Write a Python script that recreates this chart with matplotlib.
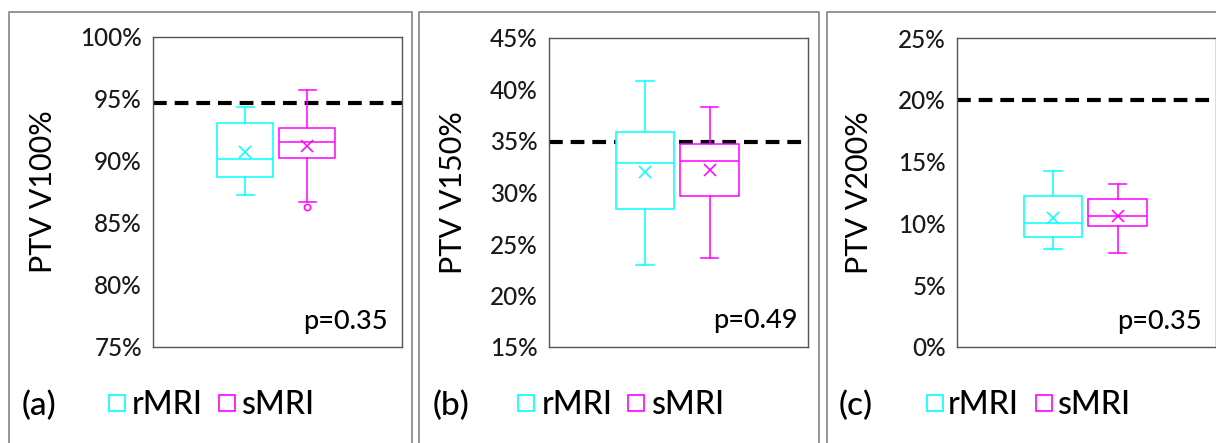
import matplotlib
matplotlib.use("Agg")
import matplotlib.pyplot as plt
import matplotlib.patches as patches
from matplotlib.lines import Line2D
from matplotlib.ticker import PercentFormatter

plt.rcParams['font.family'] = ['Lato', 'DejaVu Sans']
plt.rcParams['font.weight'] = 'medium'

W, H = 1216, 443

# --- data (percent) ---
series = ["rMRI", "sMRI"]
colors = ["#00FFFF", "#FF00FF"]
panel_tags = ["(a)", "(b)", "(c)"]
ylabels = ["PTV V100%", "PTV V150%", "PTV V200%"]
p_values = ["p=0.35", "p=0.49", "p=0.35"]
yranges = [(75, 100), (15, 45), (0, 25)]
thresholds = [94.7, 34.9, 20.0]

# [whislo, q1, med, q3, whishi, mean]
v100_r = [87.25, 88.7, 90.2, 93.1, 94.35, 90.75]
v100_s = [86.7, 90.25, 91.55, 92.7, 95.7, 91.25]
v100_fliers = [[], [86.3]]
v150_r = [22.95, 28.4, 32.9, 35.9, 40.8, 32.0]
v150_s = [23.6, 29.7, 33.1, 34.7, 38.3, 32.2]
v200_r = [7.9, 8.9, 10.0, 12.2, 14.2, 10.4]
v200_s = [7.6, 9.8, 10.6, 12.0, 13.2, 10.6]

panel_data = [(v100_r, v100_s), (v150_r, v150_s), (v200_r, v200_s)]
panel_fliers = [v100_fliers, [[], []], [[], []]]

# --- layout in pixels ---
axes_px = [(153, 37, 249, 310), (549, 38, 259, 309), (957, 38, 259, 309)]
frames_px = [(9, 403), (419, 400), (827, 420)]
ylabel_x = [-0.386, -0.317, -0.324]
p_pos = [(0.944, 0.081), (0.961, 0.087), (0.946, 0.081)]
tag_x = [22, 433, 839]
legend_x = [(109, 132, 219, 242), (518, 542, 628, 652), (927, 948, 1036, 1058)]
positions = [0.37, 0.62]


def fx(px):
    return px / W


def fy(py):
    return 1 - py / H


fig = plt.figure(figsize=(W / 100, H / 100), dpi=100)

for i in range(3):
    # panel frame
    fl, fw = frames_px[i]
    fig.add_artist(Line2D([fx(fl), fx(fl), fx(fl + fw), fx(fl + fw)],
                          [0, fy(12), fy(12), 0], color="#8c8c8c", lw=1.3))

    l, t, w, h = axes_px[i]
    ax = fig.add_axes([fx(l), fy(t + h), w / W, h / H])
    r, s = panel_data[i]
    stats = []
    for vals, fl_ in zip((r, s), panel_fliers[i]):
        stats.append(dict(whislo=vals[0], q1=vals[1], med=vals[2], q3=vals[3],
                          whishi=vals[4], mean=vals[5], fliers=fl_))

    ax.axhline(thresholds[i], color="black", lw=3, dashes=(3.3, 1.9), zorder=1)

    for k in range(2):
        c = colors[k]
        ax.bxp([stats[k]], positions=[positions[k]], widths=0.225, capwidths=0.068,
               showmeans=True, patch_artist=True,
               boxprops=dict(facecolor="white", edgecolor=c, lw=1.1),
               medianprops=dict(color=c, lw=1.1),
               whiskerprops=dict(color=c, lw=1.1),
               capprops=dict(color=c, lw=1.1),
               meanprops=dict(marker="x", markeredgecolor=c, markersize=9, markeredgewidth=1.1),
               flierprops=dict(marker="o", markerfacecolor="white", markeredgecolor=c,
                               markersize=4.5, markeredgewidth=1.1),
               zorder=3)

    ax.set_xlim(0, 1)
    lo, hi = yranges[i]
    ax.set_ylim(lo, hi)
    ax.set_yticks(range(lo, hi + 1, 5))
    ax.yaxis.set_major_formatter(PercentFormatter(decimals=0))
    ax.set_xticks([])
    ax.tick_params(axis="y", length=0, pad=8, labelsize=17.5, labelcolor="#1a1a1a")
    for sp in ax.spines.values():
        sp.set_color("#555555")
        sp.set_linewidth(1.0)
    ax.set_ylabel(ylabels[i], fontsize=22)
    ax.yaxis.set_label_coords(ylabel_x[i], 0.5)
    ax.text(p_pos[i][0], p_pos[i][1], p_values[i], transform=ax.transAxes,
            ha="right", va="center", fontsize=19.5)

    # panel tag and legend
    fig.text(fx(tag_x[i]), fy(406), panel_tags[i], ha="left", va="center", fontsize=24)
    sq1, t1, sq2, t2 = legend_x[i]
    for sq, tx, name, c in ((sq1, t1, series[0], colors[0]), (sq2, t2, series[1], colors[1])):
        fig.add_artist(patches.Rectangle((fx(sq), fy(411)), 16 / W, 16 / H,
                                         transform=fig.transFigure, facecolor="white",
                                         edgecolor=c, lw=1.2))
        fig.text(fx(tx), fy(405), name, ha="left", va="center", fontsize=23)

fig.savefig("out.png", dpi=100)
